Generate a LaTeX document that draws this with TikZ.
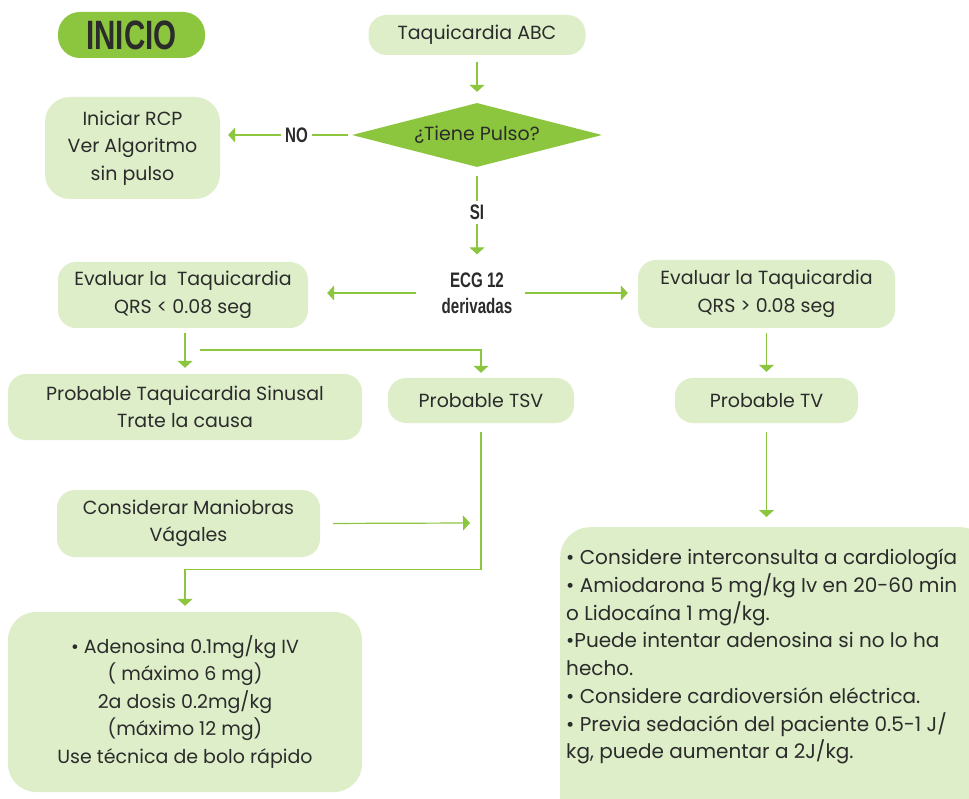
\documentclass[tikz,border=0pt]{standalone}
\usepackage{fontspec}
\setmainfont{Poppins}
\newfontfamily\condfont[FakeStretch=0.72]{Liberation Sans}
\usetikzlibrary{arrows.meta,shapes.geometric,calc}
\definecolor{gdark}{HTML}{8CC63F}
\definecolor{glight}{HTML}{DDEEC9}
\definecolor{txt}{HTML}{2B2B2B}
\begin{document}
\begin{tikzpicture}[x=1pt,y=-1pt,
  box/.style={fill=glight, rounded corners=18pt, inner sep=0pt, align=center, text=txt, font=\fontsize{19}{27.5}\selectfont},
  lbl/.style={font=\condfont\bfseries\fontsize{21}{26}\selectfont, text=txt, fill=white, inner sep=4pt, align=center},
  conn/.style={draw=gdark, line width=1.2pt},
  arr/.style={conn, -{Triangle[width=15pt,length=7pt]}},
]
\clip (0,0) rectangle (969,799);
\fill[white] (0,0) rectangle (969,799);

\node[box, fill=gdark, minimum width=147pt, minimum height=46pt, rounded corners=22pt, font=\condfont\bfseries\fontsize{41}{41}\selectfont] (inicio) at (131.5,35) {INICIO};
\node[box, minimum width=217pt, minimum height=40pt] (abc) at (477,35) {Taquicardia ABC};
\node[diamond, aspect=3.9, fill=gdark, minimum width=250pt, minimum height=64pt, inner sep=0pt, text=txt, font=\fontsize{19}{20}\selectfont] (pulse) at (477,135) {¿Tiene Pulso?};
\node[box, minimum width=175pt, minimum height=102pt, rounded corners=25pt] (rcp) at (132.5,148) {Iniciar RCP\\Ver Algoritmo\\sin pulso};
\node[lbl, fill=none] (ecg) at (477,293) {ECG 12\\derivadas};
\node[box, minimum width=250pt, minimum height=66pt] (evalL) at (183,295) {Evaluar la\ \ Taquicardia\\QRS \textless{} 0.08 seg};
\node[box, minimum width=257pt, minimum height=68pt] (evalR) at (766.5,294) {Evaluar la Taquicardia\\QRS \textgreater{} 0.08 seg};
\node[box, minimum width=354pt, minimum height=66pt] (sinus) at (185,407) {Probable Taquicardia Sinusal\\Trate la causa};
\node[box, minimum width=186pt, minimum height=45pt] (tsv) at (481,400.5) {Probable TSV};
\node[box, minimum width=183pt, minimum height=45pt] (tv) at (766.5,400.5) {Probable TV};
\node[box, minimum width=263pt, minimum height=67pt] (vagal) at (188.5,523.5) {Considerar Maniobras\\Vágales};
\node[box, minimum width=354pt, minimum height=180pt, rounded corners=28pt] (aden) at (185,702) {• Adenosina 0.1mg/kg IV\\( máximo 6 mg)\\2a dosis 0.2mg/kg\\(máximo 12 mg)\\Use técnica de bolo rápido};
\node[box, minimum width=430pt, minimum height=300pt, anchor=north west, rounded corners=30pt] (big) at (560,527) {};
\node[anchor=north west, align=left, inner sep=0pt, text=txt, font=\fontsize{20}{27.7}\selectfont] (bigtext) at (566,549) {• Considere interconsulta a cardiología\\• Amiodarona 5 mg/kg Iv en 20-60 min\\o Lidocaína 1 mg/kg.\\•Puede intentar adenosina si no lo ha\\hecho.\\• Considere cardioversión eléctrica.\\• Previa sedación del paciente 0.5-1 J/\\kg, puede aumentar a 2J/kg.};

\coordinate (br) at (200,350);
\coordinate (vtip) at (470,523);

\draw[arr, shorten <=7pt, shorten >=11pt] (abc.south) -- (pulse.north);
\draw[arr, shorten <=4pt, shorten >=8pt] (pulse.west) -- node[lbl, pos=0.42]{NO} (pulse.west -| rcp.east);
\draw[arr, shorten <=9pt, shorten >=14pt] (pulse.south) -- node[lbl, pos=0.45]{SI} (ecg.north);
\draw[arr, shorten <=22pt, shorten >=19pt] (ecg.west) -- (ecg.west -| evalL.east);
\draw[arr, shorten <=8pt, shorten >=10pt] (ecg.east) -- (ecg.east -| evalR.west);
\draw[arr, shorten <=5pt, shorten >=6pt] (evalL.south -| sinus.north) -- (sinus.north);
\draw[arr, shorten >=5pt] (br) -| (tsv.north);
\draw[arr, shorten <=9pt, shorten >=6pt] (tsv.south) |- ([yshift=42pt]aden.north) -- (aden.north);
\draw[arr, shorten <=13pt] (vagal.east) -- (vtip);
\draw[arr, shorten <=5pt, shorten >=6pt] (evalR.south) -- (tv.north);
\draw[arr, shorten <=9pt, shorten >=10pt] (tv.south) -- (tv.south |- big.north);
\end{tikzpicture}
\end{document}
